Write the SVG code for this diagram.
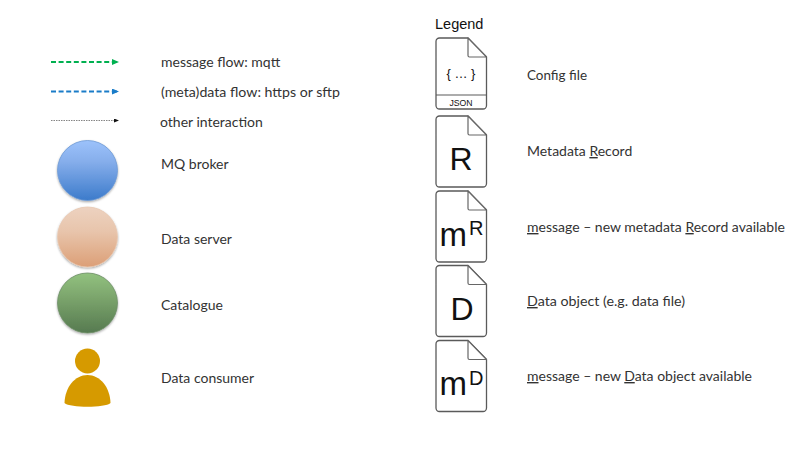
<svg xmlns="http://www.w3.org/2000/svg" width="803" height="453" viewBox="0 0 803 453">
<style>
.t{font-family:Lato,"Open Sans",sans-serif;font-size:14px;fill:#333}
.h{font-family:"Liberation Sans",Arial,sans-serif;fill:#111}
.doc{fill:#fff;stroke:#5a5a5a;stroke-width:1.3;stroke-linejoin:round}
.fold{fill:#fff;stroke:#666;stroke-width:1.2;stroke-linejoin:round}
.u{text-decoration:underline}
</style>
<defs>
<linearGradient id="gb" x1="0" y1="0" x2="0" y2="1"><stop offset="0" stop-color="#9cc2fb"/><stop offset="0.35" stop-color="#86aeeb"/><stop offset="1" stop-color="#3c7bcb"/></linearGradient>
<linearGradient id="go" x1="0" y1="0" x2="0" y2="1"><stop offset="0" stop-color="#edd2c0"/><stop offset="0.4" stop-color="#e8c5ac"/><stop offset="1" stop-color="#dc9f77"/></linearGradient>
<linearGradient id="gg" x1="0" y1="0" x2="0" y2="1"><stop offset="0" stop-color="#92c27f"/><stop offset="0.35" stop-color="#7fa96f"/><stop offset="1" stop-color="#567a50"/></linearGradient>
<filter id="sh" x="-15%" y="-15%" width="130%" height="130%"><feDropShadow dx="0" dy="1.2" stdDeviation="1" flood-color="#000" flood-opacity="0.35"/></filter>
<marker id="ag" markerWidth="7" markerHeight="6" refX="6" refY="3" orient="auto" markerUnits="userSpaceOnUse"><path d="M0 0L7 3L0 6Z" fill="#00b050"/></marker>
<marker id="ab" markerWidth="7" markerHeight="6" refX="6" refY="3" orient="auto" markerUnits="userSpaceOnUse"><path d="M0 0L7 3L0 6Z" fill="#1a7cc8"/></marker>
<marker id="ak" markerWidth="5" markerHeight="4" refX="4" refY="2" orient="auto" markerUnits="userSpaceOnUse"><path d="M0 0L5 2L0 4Z" fill="#111"/></marker>
<path id="d" d="M439.500 0H468L486.500 19V67.500a3.500 3.500 0 0 1-3.500 3.500H439.500a3.500 3.500 0 0 1-3.500-3.500V3.500A3.500 3.500 0 0 1 439.500 0Z"/>
<path id="f" d="M468 0V17.500Q468 19 469.500 19H486.500Z"/>
</defs>
<g id="connectors" fill="none">
<path d="M51 62H118" stroke="#00b050" stroke-width="1.800" stroke-dasharray="5 2.600" marker-end="url(#ag)"/>
<path d="M51 91.500H118" stroke="#1a7cc8" stroke-width="2" stroke-dasharray="5 2.600" marker-end="url(#ab)"/>
<path d="M51 120.500H118" stroke="#666" stroke-width="0.800" stroke-dasharray="1.500 1" marker-end="url(#ak)"/>
</g>
<g id="flow-labels">
<text class="t" x="161" y="67">message flow: mqtt</text>
<text class="t" x="161" y="97" textLength="179" lengthAdjust="spacingAndGlyphs">(meta)data flow: https or sftp</text>
<text class="t" x="160" y="126.500">other interaction</text>
</g>
<g id="mq-broker"><circle cx="87.500" cy="170.500" r="30" fill="url(#gb)" stroke="#6f9ad4" stroke-width="0.800" filter="url(#sh)"/><text class="t" x="161" y="169">MQ broker</text></g>
<g id="data-server"><circle cx="87.500" cy="237" r="30" fill="url(#go)" stroke="#e9c9b2" stroke-width="0.800" filter="url(#sh)"/><text class="t" x="161" y="244">Data server</text></g>
<g id="catalogue"><circle cx="87.500" cy="303" r="30" fill="url(#gg)" stroke="#6f8f68" stroke-width="0.800" filter="url(#sh)"/><text class="t" x="161" y="310">Catalogue</text></g>
<g id="data-consumer" fill="#d69a00"><circle cx="87.500" cy="361" r="12.500"/><path d="M64.500 403C65 387 75 375 87.500 375S110 387 110.500 403C105 408 70 408 64.500 403Z"/><text class="t" x="161" y="383">Data consumer</text></g>
<text class="h" x="435" y="28.500" font-size="14.500" fill="#333">Legend</text>
<g id="config-file" transform="translate(0 38)"><use href="#d" class="doc"/><use href="#f" class="fold"/><path d="M436 57H486.500" stroke="#5a5a5a" stroke-width="1.200"/>
<text class="h" x="461" y="39.500" font-size="13" text-anchor="middle" fill="#444">{ … }</text><text class="h" x="461" y="67.500" font-size="8.700" text-anchor="middle" fill="#444">JSON</text></g>
<text class="t" x="527" y="80" textLength="60" lengthAdjust="spacingAndGlyphs">Config file</text>
<g id="metadata-record" transform="translate(0 116)"><use href="#d" class="doc"/><use href="#f" class="fold"/><text class="h" x="461" y="54" font-size="32" text-anchor="middle">R</text></g>
<text class="t" x="527" y="156">Metadata <tspan class="u">R</tspan>ecord</text>
<g id="message-record" transform="translate(0 191)"><use href="#d" class="doc"/><use href="#f" class="fold"/><text class="h" x="439.500" y="55" font-size="33">m</text><text class="h" x="469" y="44" font-size="20">R</text></g>
<text class="t" x="527" y="232"><tspan class="u">m</tspan>essage – new metadata <tspan class="u">R</tspan>ecord available</text>
<g id="data-object" transform="translate(0 265.500)"><use href="#d" class="doc"/><use href="#f" class="fold"/><text class="h" x="462" y="54.500" font-size="32" text-anchor="middle">D</text></g>
<text class="t" x="527" y="306" textLength="158" lengthAdjust="spacingAndGlyphs"><tspan class="u">D</tspan>ata object (e.g. data file)</text>
<g id="message-data" transform="translate(0 340.500)"><use href="#d" class="doc"/><use href="#f" class="fold"/><text class="h" x="439.500" y="54.500" font-size="33">m</text><text class="h" x="469" y="44" font-size="20">D</text></g>
<text class="t" x="527" y="381"><tspan class="u">m</tspan>essage – new <tspan class="u">D</tspan>ata object available</text>
</svg>
